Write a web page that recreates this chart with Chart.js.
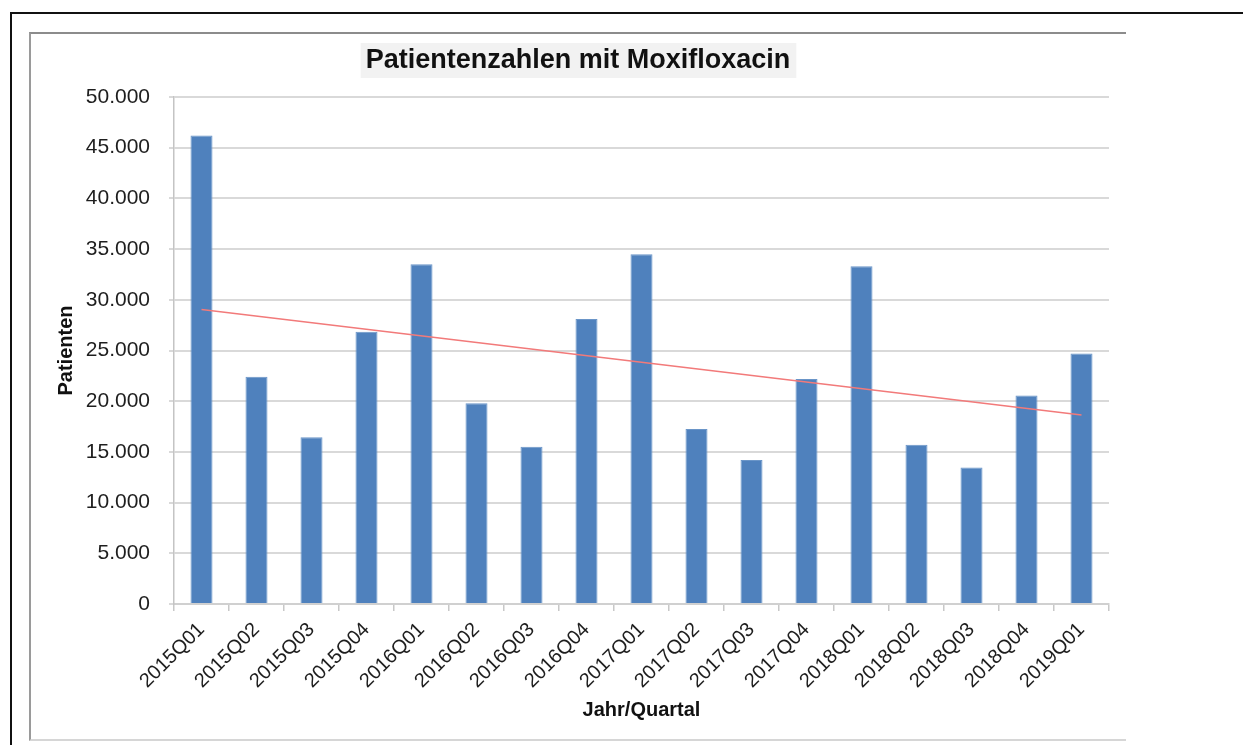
<!DOCTYPE html>
<html>
<head>
<meta charset="utf-8">
<title>Patientenzahlen mit Moxifloxacin</title>
<script src="https://cdn.jsdelivr.net/npm/chart.js@4.4.1/dist/chart.umd.min.js"></script>
<style>
  body { margin: 0; background: #fff; width: 1243px; height: 745px; overflow: hidden; position: relative; }
  #outer { position: absolute; left: 10px; top: 12px; width: 1233px; height: 733px;
           border-top: 2px solid #111; border-left: 2px solid #111; box-sizing: border-box; }
  #frame { position: absolute; left: 29px; top: 32px; width: 1097px; height: 709px; box-sizing: border-box;
           border-top: 2px solid #8c8c8c; border-left: 2px solid #9a9a9a; border-bottom: 2px solid #d6d6d6; }
  #wrap { position: absolute; left: 31px; top: 34px; width: 1094px; height: 705px; }
</style>
</head>
<body>
<div id="outer"></div>
<div id="frame"></div>
<div id="wrap"><canvas id="chart"></canvas></div>
<script>
////////////////////////////// Daten ////////////////////////////////////////////
var quartale = ["2015Q01", "2015Q02", "2015Q03", "2015Q04", "2016Q01", "2016Q02", "2016Q03", "2016Q04",
  "2017Q01", "2017Q02", "2017Q03", "2017Q04", "2018Q01", "2018Q02", "2018Q03", "2018Q04", "2019Q01"]
var patienten = [46200, 22400, 16450, 26850, 33500, 19800, 15500, 28100,
  34500, 17250, 14200, 22200, 33300, 15700, 13450, 20550, 24700]
var trend = [29050, null, null, null, null, null, null, null,
  null, null, null, null, null, null, null, null, 18650]
var yTicks = [0, 5000, 10000, 15000, 20000, 25000, 30000, 35000, 40000, 45000, 50000]
////////////////////////////////////////////////////////////////////////////////

var fontFam = "'Liberation Sans', Arial, sans-serif"
var textColor = '#1e1e1e'

function formatDe(v) {
  if (v === 0) return '0'
  return Math.floor(v / 1000) + '.' + String(v % 1000).padStart(3, '0')
}

// grauer Kasten hinter dem Titel
var titleBox = {
  id: 'titleBox',
  beforeDraw: function(chart) {
    var tb = chart.titleBlock
    if (!tb) return
    var ctx = chart.ctx
    ctx.save()
    ctx.font = "bold 27px " + fontFam
    var w = ctx.measureText(chart.options.plugins.title.text).width
    var cx = chart.width / 2
    ctx.fillStyle = '#f2f2f2'
    ctx.fillRect(cx - w / 2 - 5, 9, w + 11, 35)
    ctx.restore()
  }
}

var ctx = document.getElementById('chart').getContext('2d')
var chart = new Chart(ctx, {
  type: 'bar',
  data: {
    labels: quartale,
    datasets: [{
        type: 'line',
        label: 'Trend',
        data: trend,
        spanGaps: true,
        borderColor: '#f27a7a',
        borderWidth: 1.5,
        pointRadius: 0,
        fill: false,
        order: 0
      },
      {
        label: 'Patienten',
        data: patienten,
        backgroundColor: '#4f81bd',
        borderColor: '#6a95c8',
        borderWidth: 1,
        categoryPercentage: 1,
        barPercentage: 0.4,
        order: 1
      }
    ]
  },
  plugins: [titleBox],
  options: {
    responsive: true,
    maintainAspectRatio: false,
    animation: false,
    // links und rechts gleich, damit der Titel in der Mitte des Rahmens steht
    layout: { padding: { left: 16, right: 16, top: 0, bottom: 0 } },
    plugins: {
      legend: { display: false },
      tooltip: { enabled: false },
      title: {
        display: true,
        text: 'Patientenzahlen mit Moxifloxacin',
        color: '#111',
        font: { family: fontFam, size: 27, weight: 'bold' },
        padding: { top: 10, bottom: 20.6 }
      }
    },
    scales: {
      x: {
        grid: { drawOnChartArea: false, drawTicks: true, tickLength: 7, color: '#c8c8c8', lineWidth: 1.5, offset: true },
        border: { display: true, color: '#d0d0d0', width: 2 },
        ticks: {
          color: textColor,
          font: { family: fontFam, size: 20 },
          maxRotation: 45,
          minRotation: 45,
          autoSkip: false,
          padding: 7
        },
        title: {
          display: true,
          text: 'Jahr/Quartal',
          color: '#111',
          font: { family: fontFam, size: 20, weight: 'bold' },
          padding: { top: 0, bottom: 17 }
        },
        afterFit: function(scale) { scale.height = 135 }
      },
      y: {
        min: 0,
        max: 50000,
        afterBuildTicks: function(scale) {
          scale.ticks = yTicks.map(function(v) { return { value: v } })
        },
        grid: { color: '#d9d9d9', lineWidth: 2, tickLength: 5 },
        border: { display: true, color: '#c4c4c4', width: 1.5 },
        ticks: {
          color: textColor,
          font: { family: fontFam, size: 21 },
          padding: 19,
          callback: function(v) { return formatDe(v) }
        },
        title: {
          display: true,
          text: 'Patienten',
          color: '#111',
          font: { family: fontFam, size: 20, weight: 'bold' },
          padding: { top: 7, bottom: 0 }
        },
        afterFit: function(scale) { scale.width = 127 }
      }
    }
  }
});
</script>
</body>
</html>
